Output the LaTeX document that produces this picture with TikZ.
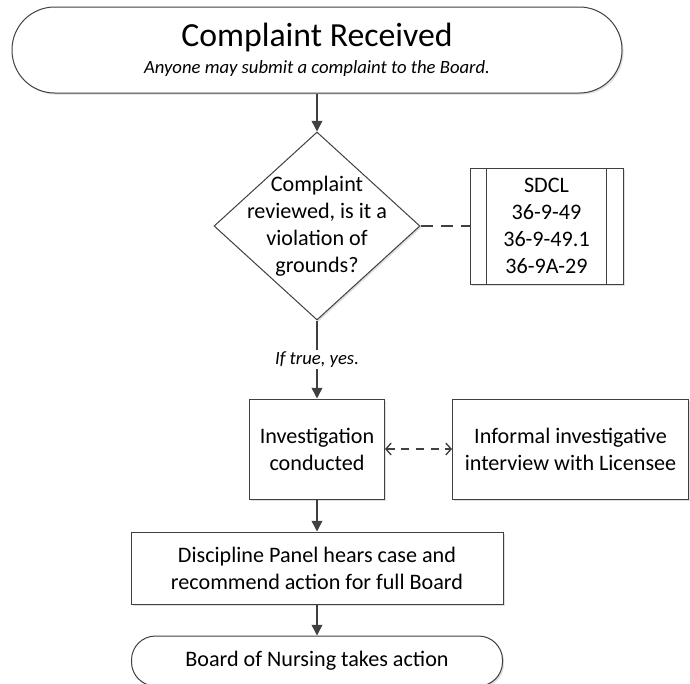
\documentclass[tikz,border=0pt]{standalone}
\usepackage{fontspec}
\setmainfont{Carlito}
\usetikzlibrary{positioning,shapes.geometric,arrows.meta,shadows}
\definecolor{linegray}{RGB}{64,64,64}

\begin{document}
\begin{tikzpicture}[node distance=24pt, every node/.style={font=\fontsize{16.6}{20.25}\selectfont}]
    \tikzset{box/.style={draw=linegray, line width=0.75pt, fill=white, shape=rectangle, align=center,
                         drop shadow={shadow xshift=1.2pt, shadow yshift=-1.2pt, fill=black!25, opacity=0.5}}}
    \tikzset{decision/.style={box, shape=diamond, inner sep=0pt}}
    \tikzset{flow/.style={draw=linegray, line width=1.1pt, -{Triangle[length=8pt,width=8pt]}}}
    \tikzset{linkline/.style={draw=linegray, line width=1pt, dash pattern=on 9.5pt off 5.5pt}}
    \useasboundingbox (0,0) rectangle (517.5pt,-512.25pt);
    \node[box, rounded corners=32pt, minimum width=457.5pt, minimum height=64.5pt,
          font=\fontsize{25.3}{20.25}\selectfont] (received) at (237.75pt,-37.5pt)
          {Complaint Received\\{\fontsize{14}{17}\itshape Anyone may submit a complaint to the Board.}};
    \node[decision, minimum width=154.5pt, minimum height=141pt, below=28.5pt of received] (review) {};
    \node[align=center] (reviewtext) at (review) {Complaint\\reviewed, is it a\\violation of\\grounds?};
    \node[box, minimum width=114.75pt, minimum height=87pt, right=36.75pt of review] (sdcl)
          {SDCL\\36-9-49\\36-9-49.1\\36-9A-29};
    \node[box, minimum width=101.25pt, minimum height=75pt, below=58.5pt of review] (investigation)
          {Investigation\\conducted};
    \node[box, minimum width=177pt, minimum height=75pt, right=50.25pt of investigation] (interview)
          {Informal investigative\\interview with Licensee};
    \node[box, minimum width=279pt, minimum height=54pt, below=of investigation] (panel)
          {Discipline Panel hears case and\\recommend action for full Board};
    \node[box, rounded corners=18pt, minimum width=278.25pt, minimum height=37.5pt, below=23.25pt of panel] (action)
          {Board of Nursing takes action};
    \draw[linegray, line width=0.75pt] ([xshift=12.75pt]sdcl.north west) -- ([xshift=12.75pt]sdcl.south west);
    \draw[linegray, line width=0.75pt] ([xshift=-12.75pt]sdcl.north east) -- ([xshift=-12.75pt]sdcl.south east);
    \draw[flow] (received) -- (review);
    \draw[linkline] (review) -- (sdcl);
    \draw[flow] (review) -- node[fill=white, inner sep=1pt, font=\fontsize{14}{17}\selectfont\itshape] (iftrue) {If true, yes.} (investigation);
    \draw[linkline, dash pattern=on 6pt off 5pt, {Straight Barb[length=4pt,width=9pt]}-{Straight Barb[length=4pt,width=9pt]}]
          (investigation) -- (interview);
    \draw[flow] (investigation) -- (panel);
    \draw[flow] (panel) -- (action);
\end{tikzpicture}
\end{document}
